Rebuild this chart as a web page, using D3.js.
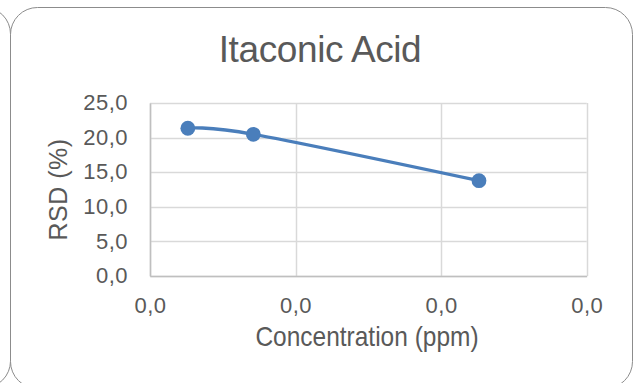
<!DOCTYPE html>
<html>
<head>
<meta charset="utf-8">
<script src="https://cdn.jsdelivr.net/npm/d3@7"></script>
<style>
  html, body { margin: 0; padding: 0; background: #fff; }
  svg { display: block; }
  text { font-family: "Liberation Sans", Arial, sans-serif; fill: #595959; }
</style>
</head>
<body>
<svg id="chart" width="639" height="383"></svg>
<script>
// Itaconic acid: relative standard deviation vs. concentration
const concentration = [0.0026, 0.0071, 0.0226];   // ppm
const rsd = [21.35, 20.48, 13.77];                // %
const xTicks = [0, 0.01, 0.02, 0.03];
const yTicks = [0, 5, 10, 15, 20, 25];
const chartTitle = "Itaconic Acid";
const xTitle = "Concentration (ppm)";
const yTitle = "RSD (%)";

const svg = d3.select("#chart");

// comma decimal separator
const locale = d3.formatLocale({ decimal: ",", thousands: ".", grouping: [3], currency: ["", " €"] });
const fmt = locale.format(".1f");

const plot = { left: 150, right: 586.7, top: 103, bottom: 276 };

const x = d3.scaleLinear().domain([0, 0.03]).range([plot.left, plot.right]);
const y = d3.scaleLinear().domain([0, 25]).range([plot.bottom, plot.top]);

// chart frames (neighbouring chart edge on the left)
svg.append("rect")
  .attr("x", -600).attr("y", 7).attr("width", 610.5).attr("height", 381)
  .attr("rx", 27).attr("ry", 27)
  .attr("fill", "none").attr("stroke", "#8c8c8c").attr("stroke-width", 1);
svg.append("rect")
  .attr("x", 10.5).attr("y", 7.5).attr("width", 622).attr("height", 381)
  .attr("rx", 27).attr("ry", 27)
  .attr("fill", "#fff").attr("stroke", "#8c8c8c").attr("stroke-width", 1);

// title
svg.append("text")
  .attr("x", 320).attr("y", 62)
  .attr("text-anchor", "middle")
  .style("font-size", "37px")
  .style("letter-spacing", "-0.4px")
  .text(chartTitle);

// gridlines
const grid = svg.append("g");
grid.selectAll("line.h").data(yTicks).join("line")
  .attr("class", "h")
  .attr("x1", plot.left).attr("x2", plot.right)
  .attr("y1", d => Math.round(y(d)) + 0.5).attr("y2", d => Math.round(y(d)) + 0.5)
  .attr("stroke", "#d9d9d9").attr("stroke-width", 1.5);
grid.selectAll("line.v").data(xTicks).join("line")
  .attr("class", "v")
  .attr("y1", plot.top).attr("y2", plot.bottom)
  .attr("x1", d => Math.round(x(d)) + 0.5).attr("x2", d => Math.round(x(d)) + 0.5)
  .attr("stroke", "#d9d9d9").attr("stroke-width", 1.5);

// axes
const yAxis = svg.append("g")
  .attr("transform", `translate(${plot.left},0)`)
  .call(d3.axisLeft(y).tickValues(yTicks).tickFormat(fmt).tickSize(0).tickPadding(22));
const xAxis = svg.append("g")
  .attr("transform", `translate(0,${plot.bottom})`)
  .call(d3.axisBottom(x).tickValues(xTicks).tickFormat(fmt).tickSize(0).tickPadding(21));
[yAxis, xAxis].forEach(a => {
  a.select(".domain").attr("stroke", "#bfbfbf").attr("stroke-width", 1.5);
  a.selectAll("text")
    .style("font-size", "22px")
    .style("letter-spacing", "0.5px")
    .attr("fill", "#595959");
});
yAxis.selectAll("text").attr("dy", "0.3em");

// axis titles
svg.append("text")
  .attr("transform", "translate(367,346) scale(1,1.12)")
  .attr("text-anchor", "middle")
  .style("font-size", "24.5px")
  .text(xTitle);
svg.append("text")
  .attr("transform", `translate(67,${(plot.top + plot.bottom) / 2}) rotate(-90)`)
  .attr("text-anchor", "middle")
  .style("font-size", "25px")
  .style("letter-spacing", "0.5px")
  .text(yTitle);

// series
const pts = concentration.map((c, i) => [c, rsd[i]]);
const line = d3.line()
  .x(d => x(d[0])).y(d => y(d[1]))
  .curve(d3.curveCatmullRom.alpha(0));
svg.append("path")
  .datum(pts)
  .attr("d", line)
  .attr("fill", "none")
  .attr("stroke", "#4a7ebb")
  .attr("stroke-width", 3.3)
  .attr("stroke-linecap", "round");
svg.selectAll("circle.pt").data(pts).join("circle")
  .attr("class", "pt")
  .attr("cx", d => x(d[0])).attr("cy", d => y(d[1]))
  .attr("r", 7.4)
  .attr("fill", "#4a7ebb");
</script>
</body>
</html>
